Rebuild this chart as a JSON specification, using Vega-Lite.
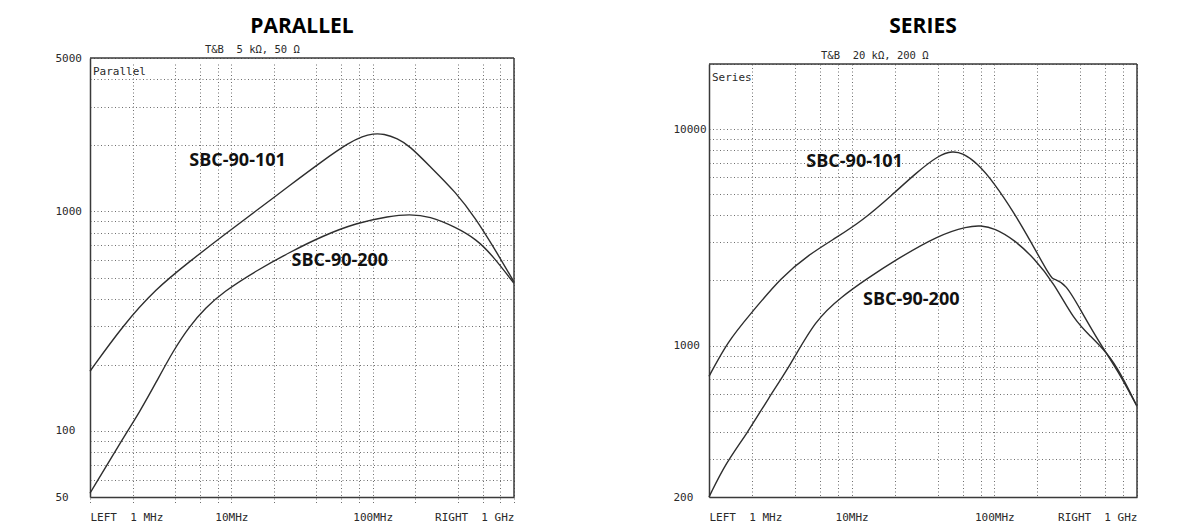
{
  "$schema": "https://vega.github.io/schema/vega-lite/v6.json",
  "autosize": {"type": "none"},
  "padding": {"left": 90, "top": 64, "right": 1109, "bottom": 465},
  "background": "white",
  "datasets": {
    "parallel": [
      {"part": "SBC-90-101", "f": 1, "z": 187},
      {"part": "SBC-90-101", "f": 1.7, "z": 301},
      {"part": "SBC-90-101", "f": 2.93, "z": 445},
      {"part": "SBC-90-101", "f": 5.05, "z": 590},
      {"part": "SBC-90-101", "f": 8.69, "z": 774},
      {"part": "SBC-90-101", "f": 15, "z": 1007},
      {"part": "SBC-90-101", "f": 25.7, "z": 1309},
      {"part": "SBC-90-101", "f": 44.3, "z": 1702},
      {"part": "SBC-90-101", "f": 68.4, "z": 2063},
      {"part": "SBC-90-101", "f": 85, "z": 2200},
      {"part": "SBC-90-101", "f": 100, "z": 2260},
      {"part": "SBC-90-101", "f": 120, "z": 2260},
      {"part": "SBC-90-101", "f": 150, "z": 2150},
      {"part": "SBC-90-101", "f": 182, "z": 1991},
      {"part": "SBC-90-101", "f": 252, "z": 1614},
      {"part": "SBC-90-101", "f": 389, "z": 1221},
      {"part": "SBC-90-101", "f": 539, "z": 923},
      {"part": "SBC-90-101", "f": 708, "z": 697},
      {"part": "SBC-90-101", "f": 1000, "z": 478},
      {"part": "SBC-90-200", "f": 1, "z": 52},
      {"part": "SBC-90-200", "f": 1.7, "z": 92},
      {"part": "SBC-90-200", "f": 2.23, "z": 121},
      {"part": "SBC-90-200", "f": 2.93, "z": 166},
      {"part": "SBC-90-200", "f": 3.85, "z": 230},
      {"part": "SBC-90-200", "f": 5.05, "z": 300},
      {"part": "SBC-90-200", "f": 6.62, "z": 365},
      {"part": "SBC-90-200", "f": 8.69, "z": 428},
      {"part": "SBC-90-200", "f": 15, "z": 537},
      {"part": "SBC-90-200", "f": 25.7, "z": 650},
      {"part": "SBC-90-200", "f": 44.3, "z": 774},
      {"part": "SBC-90-200", "f": 76.3, "z": 885},
      {"part": "SBC-90-200", "f": 131, "z": 952},
      {"part": "SBC-90-200", "f": 182, "z": 970},
      {"part": "SBC-90-200", "f": 252, "z": 952},
      {"part": "SBC-90-200", "f": 389, "z": 846},
      {"part": "SBC-90-200", "f": 539, "z": 748},
      {"part": "SBC-90-200", "f": 708, "z": 628},
      {"part": "SBC-90-200", "f": 1000, "z": 470}
    ],
    "series": [
      {"part": "SBC-90-101", "f": 1, "z": 722},
      {"part": "SBC-90-101", "f": 1.36, "z": 1050},
      {"part": "SBC-90-101", "f": 1.89, "z": 1366},
      {"part": "SBC-90-101", "f": 3.24, "z": 2087},
      {"part": "SBC-90-101", "f": 5.0, "z": 2630},
      {"part": "SBC-90-101", "f": 7.7, "z": 3141},
      {"part": "SBC-90-101", "f": 11.9, "z": 3780},
      {"part": "SBC-90-101", "f": 19.3, "z": 4980},
      {"part": "SBC-90-101", "f": 28.2, "z": 6270},
      {"part": "SBC-90-101", "f": 41, "z": 7610},
      {"part": "SBC-90-101", "f": 51, "z": 7920},
      {"part": "SBC-90-101", "f": 60, "z": 7750},
      {"part": "SBC-90-101", "f": 76, "z": 6970},
      {"part": "SBC-90-101", "f": 100, "z": 5630},
      {"part": "SBC-90-101", "f": 138, "z": 4095},
      {"part": "SBC-90-101", "f": 180, "z": 3029},
      {"part": "SBC-90-101", "f": 249, "z": 2051},
      {"part": "SBC-90-101", "f": 262, "z": 2030},
      {"part": "SBC-90-101", "f": 317, "z": 1932},
      {"part": "SBC-90-101", "f": 403, "z": 1458},
      {"part": "SBC-90-101", "f": 556, "z": 1010},
      {"part": "SBC-90-101", "f": 728, "z": 774},
      {"part": "SBC-90-101", "f": 1000, "z": 525},
      {"part": "SBC-90-200", "f": 1, "z": 200},
      {"part": "SBC-90-200", "f": 1.31, "z": 287},
      {"part": "SBC-90-200", "f": 1.86, "z": 395},
      {"part": "SBC-90-200", "f": 2.6, "z": 570},
      {"part": "SBC-90-200", "f": 3.71, "z": 810},
      {"part": "SBC-90-200", "f": 5.57, "z": 1318},
      {"part": "SBC-90-200", "f": 8.57, "z": 1689},
      {"part": "SBC-90-200", "f": 12.5, "z": 2016},
      {"part": "SBC-90-200", "f": 20.4, "z": 2494},
      {"part": "SBC-90-200", "f": 41, "z": 3250},
      {"part": "SBC-90-200", "f": 65, "z": 3560},
      {"part": "SBC-90-200", "f": 80.5, "z": 3590},
      {"part": "SBC-90-200", "f": 100, "z": 3490},
      {"part": "SBC-90-200", "f": 138, "z": 3083},
      {"part": "SBC-90-200", "f": 190, "z": 2538},
      {"part": "SBC-90-200", "f": 262, "z": 1945},
      {"part": "SBC-90-200", "f": 361, "z": 1318},
      {"part": "SBC-90-200", "f": 473, "z": 1104},
      {"part": "SBC-90-200", "f": 618, "z": 925},
      {"part": "SBC-90-200", "f": 766, "z": 748},
      {"part": "SBC-90-200", "f": 1000, "z": 525}
    ],
    "parallel_labels": [
      {"label": "SBC-90-101", "f": 5.04, "z": 1695},
      {"label": "SBC-90-200", "f": 26.7, "z": 594}
    ],
    "series_labels": [
      {"label": "SBC-90-101", "f": 4.81, "z": 7017},
      {"label": "SBC-90-200", "f": 12.0, "z": 1618}
    ]
  },
  "spacing": 195,
  "bounds": "flush",
  "hconcat": [
    {
      "width": 424,
      "height": 433,
      "title": {"text": "PARALLEL", "font": "Open Sans", "fontSize": 21, "fontWeight": "bold", "color": "#000000", "offset": 8, "anchor": "middle", "frame": "group"},
      "layer": [
        {
          "data": {"name": "parallel"},
          "mark": {"type": "line", "color": "#2e2e2e", "strokeWidth": 1.4, "interpolate": "basis"},
          "encoding": {
            "x": {"field": "f", "type": "quantitative",
              "scale": {"type": "log", "domain": [1, 1000], "nice": false},
              "axis": {"title": null, "orient": "bottom",
                "values": [1, 2, 4, 6, 8, 10, 20, 40, 60, 80, 100, 200, 400, 600, 800, 1000],
                "labelExpr": "datum.value == 1 ? 'LEFT\u00a0 1 MHz' : datum.value == 10 ? '10MHz' : datum.value == 100 ? '100MHz' : datum.value == 1000 ? 'RIGHT\u00a0 1 GHz' : ''",
                "labelFlush": true, "labelBaseline": "top", "labelPadding": 14}},
            "y": {"field": "z", "type": "quantitative",
              "scale": {"type": "log", "domain": [50, 5000], "nice": false, "range": [433, -6]},
              "axis": {"title": null,
                "values": [50, 60, 70, 80, 90, 100, 200, 300, 400, 500, 600, 700, 800, 900, 1000, 2000, 3000, 4000, 5000],
                "labelExpr": "indexof([50, 100, 1000, 5000], datum.value) >= 0 ? '' + datum.value : ''",
                "labelAlign": "left", "labelBaseline": "middle", "labelPadding": 35, "labelFlush": false}},
            "detail": {"field": "part", "type": "nominal"}
          }
        },
        {
          "data": {"name": "parallel_labels"},
          "mark": {"type": "text", "font": "Open Sans", "fontWeight": "bold", "fontSize": 18, "color": "#111111", "align": "left", "baseline": "middle"},
          "encoding": {
            "x": {"field": "f", "type": "quantitative"},
            "y": {"field": "z", "type": "quantitative"},
            "text": {"field": "label"}
          }
        },
        {
          "data": {"values": [{}]},
          "mark": {"type": "rule", "color": "#3a3a3a", "strokeWidth": 1.5},
          "encoding": {"y": {"datum": 5000}}
        },
        {
          "data": {"values": [{}]},
          "mark": {"type": "rule", "color": "#3a3a3a", "strokeWidth": 1.5},
          "encoding": {"x": {"datum": 1000}, "y": {"datum": 50}, "y2": {"datum": 5000}}
        },
        {
          "data": {"values": [{}]},
          "mark": {"type": "text", "text": "Parallel", "font": "DejaVu Sans Mono", "fontSize": 11, "color": "#2a2a2a", "align": "left", "baseline": "top", "dx": 3, "dy": 8},
          "encoding": {"x": {"datum": 1}, "y": {"datum": 5000}}
        },
        {
          "data": {"values": [{}]},
          "mark": {"type": "text", "text": "T&B\u00a0 5 kΩ, 50 Ω", "font": "DejaVu Sans Mono", "fontSize": 10.5, "color": "#2a2a2a", "align": "left", "baseline": "alphabetic", "dy": -5},
          "encoding": {"x": {"datum": 6.5}, "y": {"datum": 5000}}
        }
      ]
    },
    {
      "width": 428,
      "height": 433,
      "title": {"text": "SERIES", "font": "Open Sans", "fontSize": 21, "fontWeight": "bold", "color": "#000000", "offset": 14, "anchor": "middle", "frame": "group"},
      "layer": [
        {
          "data": {"name": "series"},
          "mark": {"type": "line", "color": "#2e2e2e", "strokeWidth": 1.4, "interpolate": "basis"},
          "encoding": {
            "x": {"field": "f", "type": "quantitative",
              "scale": {"type": "log", "domain": [1, 1000], "nice": false},
              "axis": {"title": null, "orient": "bottom",
                "values": [1, 2, 4, 6, 8, 10, 20, 40, 60, 80, 100, 200, 400, 600, 800, 1000],
                "labelExpr": "datum.value == 1 ? 'LEFT\u00a0 1 MHz' : datum.value == 10 ? '10MHz' : datum.value == 100 ? '100MHz' : datum.value == 1000 ? 'RIGHT\u00a0 1 GHz' : ''",
                "labelFlush": true, "labelBaseline": "top", "labelPadding": 14}},
            "y": {"field": "z", "type": "quantitative",
              "scale": {"type": "log", "domain": [200, 20000], "nice": false},
              "axis": {"title": null,
                "values": [200, 300, 400, 500, 600, 700, 800, 900, 1000, 2000, 3000, 4000, 5000, 6000, 7000, 8000, 9000, 10000, 20000],
                "labelExpr": "indexof([200, 1000, 10000], datum.value) >= 0 ? '' + datum.value : ''",
                "labelAlign": "left", "labelBaseline": "middle", "labelPadding": 36, "labelFlush": false}},
            "detail": {"field": "part", "type": "nominal"}
          }
        },
        {
          "data": {"name": "series_labels"},
          "mark": {"type": "text", "font": "Open Sans", "fontWeight": "bold", "fontSize": 18, "color": "#111111", "align": "left", "baseline": "middle"},
          "encoding": {
            "x": {"field": "f", "type": "quantitative"},
            "y": {"field": "z", "type": "quantitative"},
            "text": {"field": "label"}
          }
        },
        {
          "data": {"values": [{}]},
          "mark": {"type": "rule", "color": "#3a3a3a", "strokeWidth": 1.5},
          "encoding": {"y": {"datum": 20000}}
        },
        {
          "data": {"values": [{}]},
          "mark": {"type": "rule", "color": "#3a3a3a", "strokeWidth": 1.5},
          "encoding": {"x": {"datum": 1000}, "y": {"datum": 200}, "y2": {"datum": 20000}}
        },
        {
          "data": {"values": [{}]},
          "mark": {"type": "text", "text": "Series", "font": "DejaVu Sans Mono", "fontSize": 11, "color": "#2a2a2a", "align": "left", "baseline": "top", "dx": 3, "dy": 8},
          "encoding": {"x": {"datum": 1}, "y": {"datum": 20000}}
        },
        {
          "data": {"values": [{}]},
          "mark": {"type": "text", "text": "T&B\u00a0 20 kΩ, 200 Ω", "font": "DejaVu Sans Mono", "fontSize": 10.5, "color": "#2a2a2a", "align": "left", "baseline": "alphabetic", "dy": -5},
          "encoding": {"x": {"datum": 6.1}, "y": {"datum": 20000}}
        }
      ]
    }
  ],
  "config": {
    "view": {"stroke": null},
    "axis": {
      "grid": true, "gridColor": "#6e6e6e", "gridDash": [1, 2.5], "gridWidth": 1,
      "ticks": false, "tickSize": 0,
      "domain": true, "domainColor": "#3a3a3a", "domainWidth": 1.5,
      "labelFont": "DejaVu Sans Mono", "labelFontSize": 11, "labelColor": "#2a2a2a",
      "labelOverlap": false
    }
  }
}
